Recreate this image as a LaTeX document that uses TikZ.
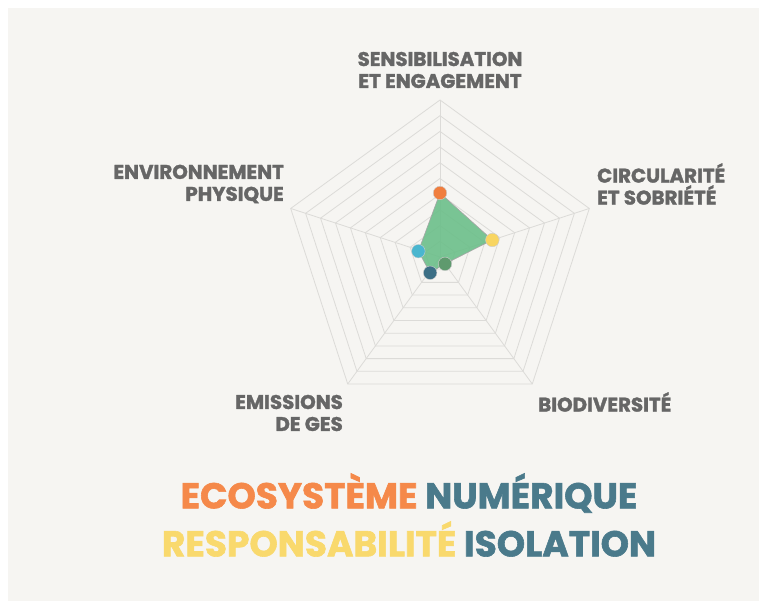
\documentclass[tikz,border=0pt]{standalone}
\usepackage{fontspec}
\setmainfont{Poppins}[BoldFeatures={FakeBold=1.6}]
\usetikzlibrary{positioning}
\definecolor{panel}{HTML}{F6F5F2}
\definecolor{gridgray}{HTML}{DCDBD8}
\definecolor{labelgray}{HTML}{666666}
\definecolor{areagreen}{HTML}{6CBF8A}
\definecolor{dotorange}{HTML}{F07E3E}
\definecolor{dotyellow}{HTML}{F8D561}
\definecolor{dotcyan}{HTML}{4AB6CF}
\definecolor{dotblue}{HTML}{3C6F86}
\definecolor{dotgreen}{HTML}{5F9A6E}
\definecolor{titleorange}{HTML}{F5894A}
\definecolor{titleteal}{HTML}{4A7A8B}
\definecolor{titleyellow}{HTML}{F9D96D}
\tikzset{
  gridline/.style={gridgray, line width=0.8pt},
  area/.style={fill=areagreen, fill opacity=0.9, draw=gray!70, line width=0.6pt},
  dot/.style={circle, inner sep=0pt, minimum size=13.5pt, draw=gray!40, line width=0.4pt},
  axislabel/.style={labelgray, inner sep=0pt, font=\bfseries\fontsize{19.8}{22}\selectfont},
  titleline/.style={inner sep=0pt, font=\bfseries\fontsize{36}{36}\selectfont}
}

\begin{document}
\begin{tikzpicture}[x=1pt,y=1pt]
  \useasboundingbox (0,0) rectangle (759,601);
  % background
  \fill[panel] (8,0) rectangle (759,593);
  \begin{scope}[shift={(440,344)}]
    % grid
    \foreach \r in {1,...,10}{
      \draw[gridline] (90:\r*15.7) -- (18:\r*15.7) -- (-54:\r*15.7) -- (-126:\r*15.7) -- (162:\r*15.7) -- cycle;}
    \foreach \a in {90,18,-54,-126,162}{\draw[gridline] (0,0) -- (\a:157);}
    % values
    \coordinate (sens) at (90:64);
    \coordinate (circ) at (18:55);
    \coordinate (bio)  at (-54:8.5);
    \coordinate (ges)  at (-122:18.6);
    \coordinate (env)  at (165:22.4);
    \filldraw[area] (sens) -- (circ) -- (bio) -- (ges) -- (env) -- cycle;
    \node[dot, fill=dotorange] (sensdot) at (sens) {};
    \node[dot, fill=dotyellow] (circdot) at (circ) {};
    \node[dot, fill=dotgreen]  (biodot)  at (bio)  {};
    \node[dot, fill=dotblue]   (gesdot)  at (ges)  {};
    \node[dot, fill=dotcyan]   (envdot)  at (env)  {};
  \end{scope}
  % axis labels
  \node[axislabel, align=center] (senslbl) at (440,531) {SENSIBILISATION\\ET ENGAGEMENT};
  \node[axislabel, align=left, anchor=west] (circlbl) at (597,417) {CIRCULARITÉ\\ET SOBRIÉTÉ};
  \node[axislabel, align=right, anchor=east] (envlbl) at (284,417) {ENVIRONNEMENT\\PHYSIQUE};
  \node[axislabel, align=right, anchor=east] (geslbl) at (343,188) {EMISSIONS\\DE GES};
  \node[axislabel, anchor=west] (biolbl) at (538,199) {BIODIVERSITÉ};
  % title
  \node[titleline] (title1) at (409,108) {\textcolor{titleorange}{ECOSYSTÈME} \textcolor{titleteal}{NUMÉRIQUE}};
  \node[titleline, below=48pt of title1.base, anchor=base] (title2) {\textcolor{titleyellow}{RESPONSABILITÉ} \textcolor{titleteal}{ISOLATION}};
\end{tikzpicture}
\end{document}
